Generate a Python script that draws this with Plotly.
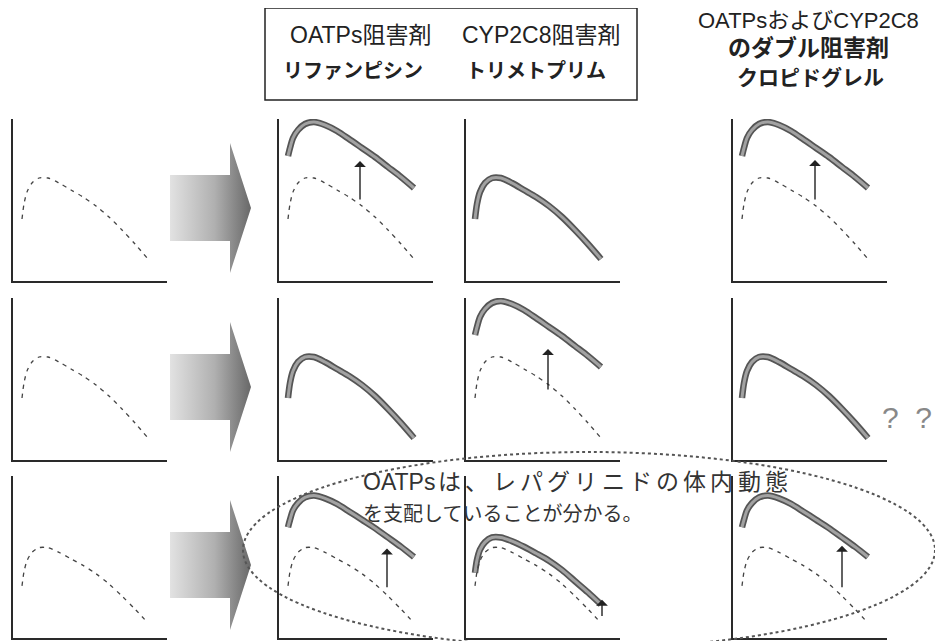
import plotly.graph_objects as go

# ---------------- data (arbitrary units: time, plasma concentration) ----------------
time_pts = [9, 11, 14, 19, 26, 35, 46, 58, 70, 83, 96, 109, 122, 135]
conc_control = [62, 77, 89, 98, 103, 103, 98, 91, 84, 75, 64, 51, 37, 22]        # repaglinide alone
conc_high = [125, 133, 143, 151, 157, 159, 156, 150, 142, 133, 124, 114, 104, 93]  # strongly increased
conc_mild = [76, 90, 101, 109, 114, 114, 110, 104, 97, 89, 79, 67, 55, 42]         # slightly increased

# panel contents: (row, col) -> list of curve kinds
panel_curves = {
    (0, 0): ["control"],
    (0, 1): ["high", "control"],
    (0, 2): ["solid_control"],
    (0, 3): ["high", "control"],
    (1, 0): ["control"],
    (1, 1): ["solid_control"],
    (1, 2): ["high", "control"],
    (1, 3): ["solid_control"],
    (2, 0): ["control"],
    (2, 1): ["high", "control"],
    (2, 2): ["mild", "control"],
    (2, 3): ["high", "control"],
}
# arrows: row, col, time, from concentration, to concentration
arrow_rows = [0, 0, 1, 2, 2, 2]
arrow_cols = [1, 3, 2, 1, 3, 2]
arrow_time = [81, 82, 82, 108, 109, 136]
arrow_from = [80, 80, 69, 59, 59, 28]
arrow_to = [120, 121, 111, 102, 105, 47]

header_mid = ["OATPs阻害剤", "CYP2C8阻害剤"]
header_drug = ["リファンピシン", "トリメトプリム"]
header_right = ["OATPsおよびCYP2C8", "のダブル阻害剤", "クロピドグレル"]
note_line1_head = "OATPs"
note_line1_rest = "は、レパグリニドの体内動態"
note_line2 = "を支配していることが分かる。"

# ---------------- layout geometry (page pixels) ----------------
W, H = 943, 641
OFF = 8                      # page body margin
FW, FH = W - OFF, H - OFF
col_left = [13, 279, 466, 733]
row_top = [119, 298, 476]
pw, ph = 154, 162
y_ranges = [[0, 162], [0, 162], [6, 180]]
FONT = "Liberation Sans, Noto Sans CJK JP"

fig = go.Figure()
layout = {}
idx = 0
axis_names = {}
for r in range(3):
    for c in range(4):
        idx += 1
        xa = "xaxis" if idx == 1 else f"xaxis{idx}"
        ya = "yaxis" if idx == 1 else f"yaxis{idx}"
        xr = "x" if idx == 1 else f"x{idx}"
        yr = "y" if idx == 1 else f"y{idx}"
        axis_names[(r, c)] = (xr, yr)
        x0 = (col_left[c] - OFF) / FW
        x1 = (col_left[c] + pw - OFF) / FW
        y1 = 1 - (row_top[r] - OFF) / FH
        y0 = 1 - (row_top[r] + ph - OFF) / FH
        common = dict(showline=True, linecolor="#2a2a2a", linewidth=2, showgrid=False,
                      zeroline=False, showticklabels=False, ticks="", fixedrange=True)
        layout[xa] = dict(domain=[x0, x1], range=[0, pw], anchor=yr, **common)
        layout[ya] = dict(domain=[y0, y1], range=y_ranges[r], anchor=xr, **common)

# overlay axis for decorations in page-pixel space
layout["xaxis13"] = dict(domain=[0, 1], range=[OFF, W], visible=False, anchor="y13", fixedrange=True)
layout["yaxis13"] = dict(domain=[0, 1], range=[H, OFF], visible=False, anchor="x13", fixedrange=True)

series = {"control": conc_control, "high": conc_high, "mild": conc_mild, "solid_control": conc_control}

for (r, c), kinds in panel_curves.items():
    xr, yr = axis_names[(r, c)]
    for k in kinds:
        yv = series[k]
        if k == "control":
            fig.add_trace(go.Scatter(x=time_pts, y=yv, mode="lines", xaxis=xr, yaxis=yr,
                                     line=dict(color="#444", width=1.3, dash="4px,5px",
                                               shape="spline", smoothing=0.8),
                                     hoverinfo="skip"))
        else:
            fig.add_trace(go.Scatter(x=time_pts, y=yv, mode="lines", xaxis=xr, yaxis=yr,
                                     line=dict(color="#555", width=6.5, shape="spline", smoothing=0.8),
                                     hoverinfo="skip"))
            fig.add_trace(go.Scatter(x=time_pts, y=yv, mode="lines", xaxis=xr, yaxis=yr,
                                     line=dict(color="#a2a2a2", width=3, shape="spline", smoothing=0.8),
                                     hoverinfo="skip"))

annotations = []
for r, c, t, a, b in zip(arrow_rows, arrow_cols, arrow_time, arrow_from, arrow_to):
    xr, yr = axis_names[(r, c)]
    annotations.append(dict(x=t, y=b, ax=t, ay=a, xref=xr, yref=yr, axref=xr, ayref=yr,
                            text="", showarrow=True, arrowhead=1, arrowsize=1.4,
                            arrowwidth=1.4, arrowcolor="#222"))

# big block arrows between first and second column
for cy in [208, 387, 565]:
    px = [170, 230, 230, 251, 230, 230, 170, 170]
    py = [cy - 33, cy - 33, cy - 65, cy, cy + 65, cy + 33, cy + 33, cy - 33]
    fig.add_trace(go.Scatter(x=px, y=py, mode="lines", fill="toself", xaxis="x13", yaxis="y13",
                             line=dict(width=0, color="rgba(0,0,0,0)"),
                             fillgradient=dict(type="horizontal",
                                               colorscale=[[0, "#e2e2e2"], [0.55, "#b0b0b0"], [1, "#686868"]]),
                             hoverinfo="skip"))

shapes = [
    dict(type="rect", xref="x13", yref="y13", x0=265, x1=637, y0=8, y1=100,
         line=dict(color="#222", width=1.5)),
    dict(type="circle", xref="x13", yref="y13", x0=243, x1=935, y0=452, y1=648,
         line=dict(color="#555", width=2, dash="dot"), layer="above"),
]

def txt(x, y, s, size, color="#222", anchor="center", bold=False):
    return dict(x=x, y=y, xref="x13", yref="y13", text=f"<b>{s}</b>" if bold else s,
                showarrow=False, xanchor=anchor, yanchor="middle",
                font=dict(family=FONT, size=size, color=color))

annotations += [
    txt(360, 35, header_mid[0], 23),
    txt(541, 35, header_mid[1], 23),
    txt(353, 71, header_drug[0], 20, bold=True),
    txt(536, 71, header_drug[1], 20, bold=True),
    txt(808, 20, header_right[0], 22),
    txt(808, 48, header_right[1], 23, bold=True),
    txt(810, 77, header_right[2], 21, bold=True),
    txt(907, 417, "?  ?", 30, color="#888"),
]

# justified first line of note
annotations.append(txt(361, 482, note_line1_head, 23, color="#333", anchor="left"))
cell = (790 - 436) / len(note_line1_rest)
for i, ch in enumerate(note_line1_rest):
    annotations.append(txt(436 + cell * (i + 0.5), 482, ch, 23, color="#333"))
annotations.append(txt(361, 514, note_line2, 20, color="#333", anchor="left"))

fig.update_layout(width=FW, height=FH, margin=dict(l=0, r=0, t=0, b=0),
                  paper_bgcolor="white", plot_bgcolor="rgba(0,0,0,0)", showlegend=False,
                  shapes=shapes, annotations=annotations, **layout)
fig.write_html("out.html")
